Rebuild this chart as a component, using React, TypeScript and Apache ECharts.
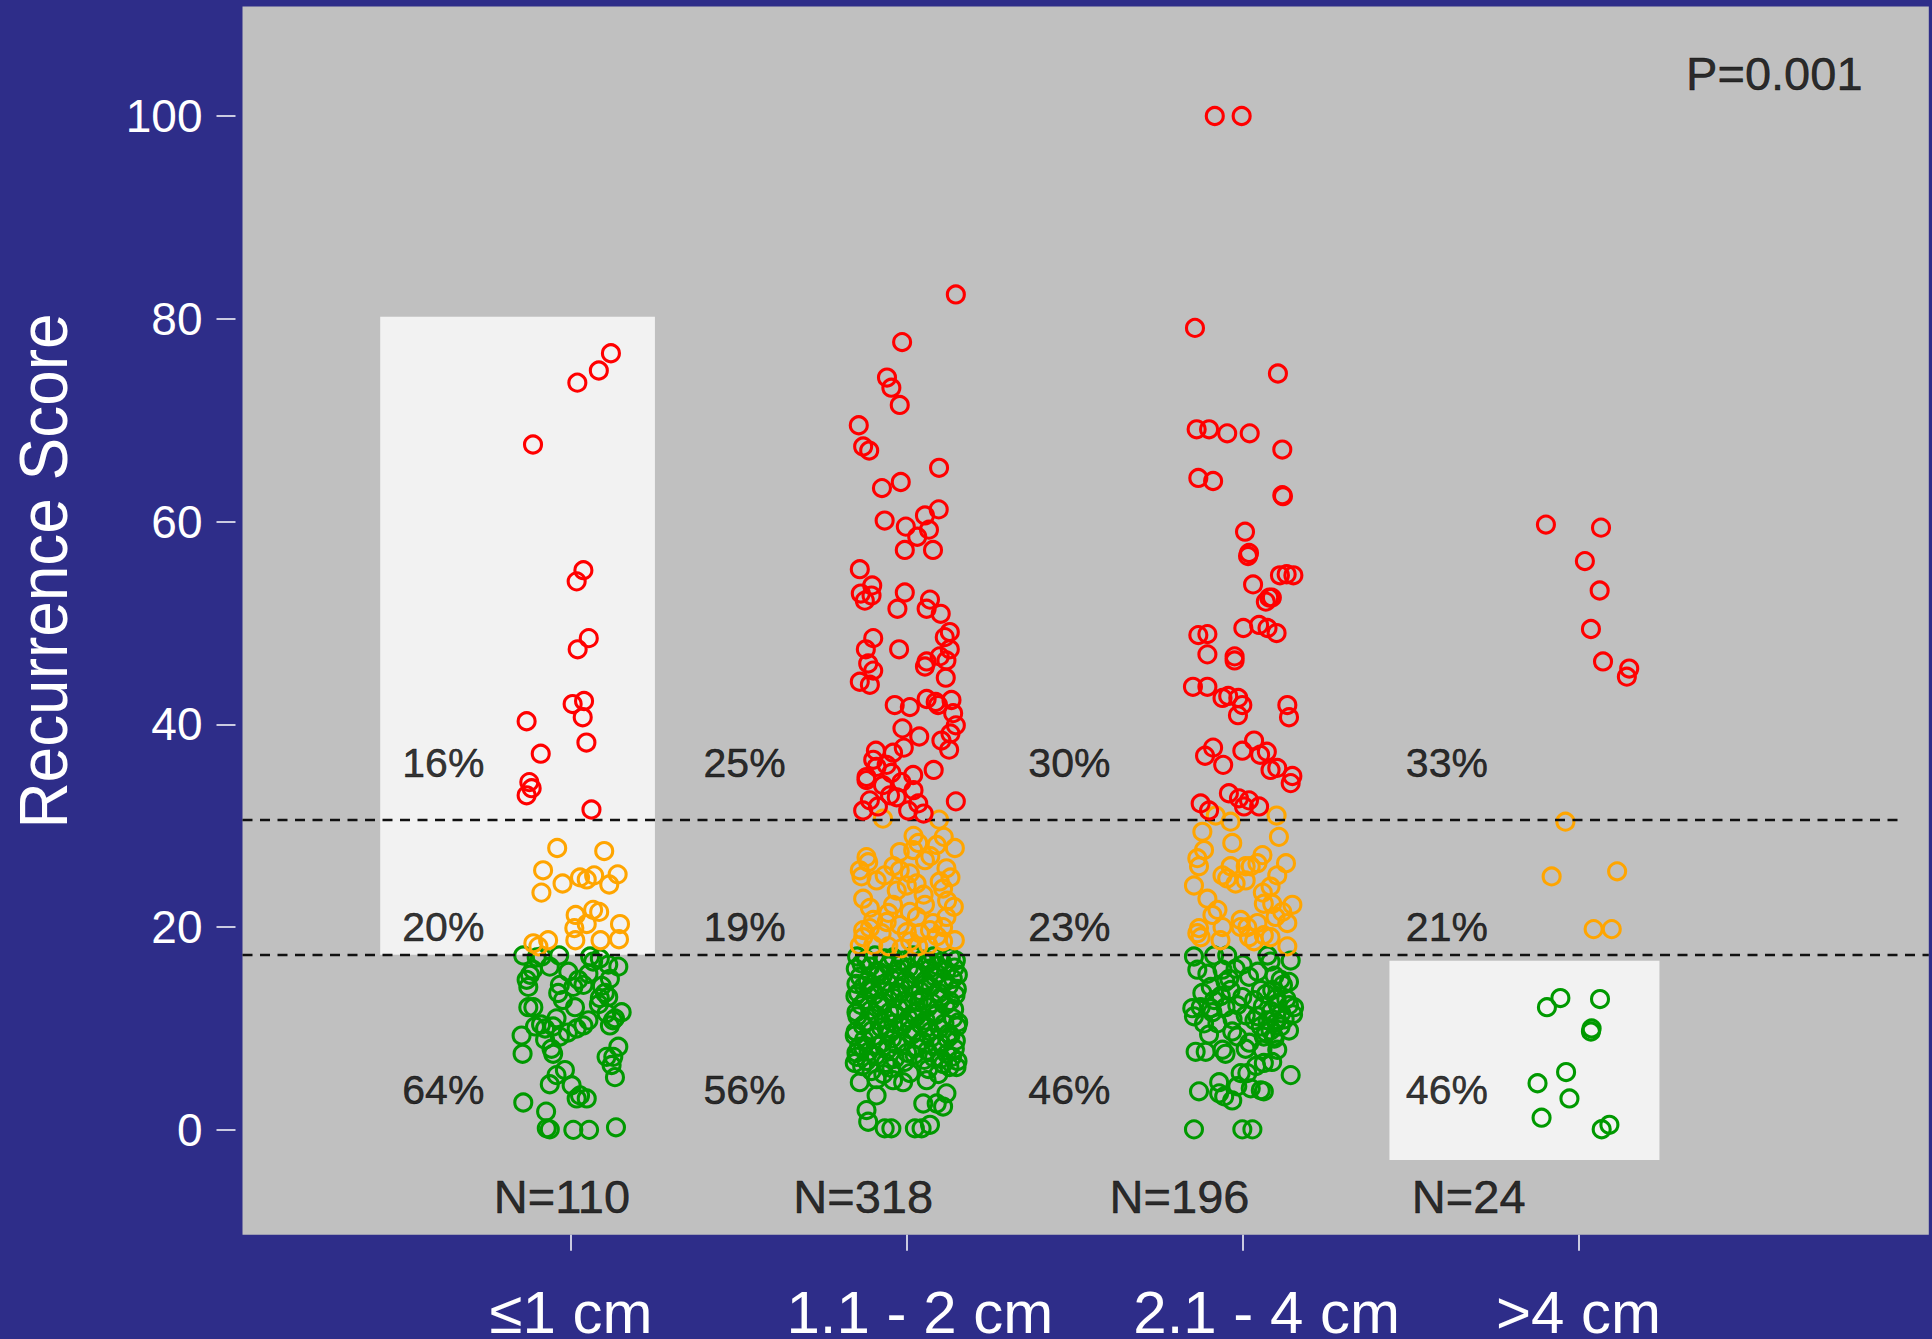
import React, { useEffect, useRef } from "react";
import * as echarts from "echarts";

// Tumour-size groups along the x axis
const sizeGroups = ["≤1 cm", "1.1 - 2 cm", "2.1 - 4 cm", ">4 cm"];
const scoreTicks = [0, 20, 40, 60, 80, 100];
const pValueText = "P=0.001";

// Risk cut-offs drawn as dashed reference lines
const cutLow = 17.25;
const cutHigh = 30.6;

// Each point: [horizontal jitter from the group centre, recurrence score]
const g1High = [
  [0.119, 76.6], [0.083, 74.9], [0.019, 73.7], [-0.113, 67.6], [0.037, 55.2], [0.017, 54.1],
  [0.053, 48.5], [0.02, 47.4], [0.039, 42.3], [0.005, 42.0], [0.035, 40.7], [-0.132, 40.3],
  [0.046, 38.2], [-0.09, 37.1], [-0.124, 34.3], [-0.117, 33.7], [-0.132, 33.0], [0.061, 31.6],
];
const g1Mid = [
  [-0.041, 27.8], [0.099, 27.5], [-0.083, 25.6], [-0.025, 24.3], [0.027, 24.9], [0.047, 24.7],
  [0.069, 25.1], [0.139, 25.2], [0.114, 24.2], [-0.088, 23.4], [0.066, 21.7], [0.084, 21.5],
  [0.014, 21.2], [0.146, 20.3], [0.047, 20.3], [0.01, 19.9], [0.013, 18.7], [0.088, 18.7],
  [0.143, 18.8], [-0.068, 18.7], [-0.112, 18.4], [-0.097, 18.1],
];
const g1Low = [
  [-0.142, 17.2], [-0.087, 17.1], [-0.102, 17.0], [-0.035, 17.2], [0.057, 17.1], [0.086, 16.9],
  [0.111, 16.3], [0.141, 16.1], [-0.063, 16.1], [-0.008, 15.6], [0.052, 15.4], [-0.122, 15.3],
  [-0.132, 14.8], [0.116, 14.9], [0.022, 14.8], [-0.127, 14.1], [-0.033, 14.3], [0.007, 14.1],
  [0.037, 14.3], [-0.038, 13.5], [0.101, 13.5], [0.111, 13.1], [0.086, 13.0], [-0.127, 12.1],
  [-0.112, 12.1], [0.012, 12.1], [0.151, 11.6], [0.106, 11.5], [0.131, 11.0], [-0.043, 11.0],
  [0.052, 10.8], [-0.107, 10.2], [-0.077, 10.0], [-0.053, 10.2], [0.017, 10.0], [0.037, 10.3],
  [0.116, 10.3], [-0.147, 9.3], [-0.033, 9.2], [-0.077, 8.9], [-0.058, 8.0], [-0.053, 7.5],
  [-0.144, 7.5], [0.141, 8.2], [0.106, 7.2], [0.126, 7.2], [0.121, 6.4], [0.131, 5.2],
  [-0.018, 5.9], [-0.043, 5.4], [-0.063, 4.5], [0.002, 4.4], [0.017, 3.1], [0.047, 3.1],
  [0.027, 3.4], [-0.142, 2.7], [-0.074, 1.8], [-0.072, 0.15], [-0.063, 0.05], [0.007, 0],
  [0.054, 0], [0.134, 0.25], [0.092, 14.2], [0.083, 12.4], [0.125, 10.8], [-0.089, 10.4],
  [-0.009, 9.6], [-0.113, 15.8], [0.066, 16.6], [-0.024, 12.8],
];

const g2High = [
  [0.146, 82.4], [-0.014, 77.7], [-0.059, 74.2], [-0.046, 73.2], [-0.021, 71.5], [-0.143, 69.5],
  [-0.13, 67.4], [-0.112, 67.0], [0.096, 65.3], [-0.018, 63.9], [-0.074, 63.3], [-0.066, 60.1],
  [0.095, 61.2], [0.054, 60.6], [-0.003, 59.5], [0.066, 59.2], [0.031, 58.5], [-0.006, 57.2],
  [0.078, 57.2], [-0.14, 55.3], [-0.103, 53.7], [-0.137, 52.9], [-0.125, 52.2], [-0.105, 52.7],
  [-0.006, 53.0], [-0.028, 51.4], [0.069, 52.3], [0.059, 51.4], [0.101, 50.9], [0.128, 49.1],
  [0.113, 48.6], [-0.1, 48.5], [-0.122, 47.4], [-0.023, 47.4], [0.128, 47.4], [-0.115, 46.0],
  [-0.1, 45.3], [0.059, 46.2], [0.054, 45.7], [0.098, 46.7], [0.118, 46.3], [0.116, 44.6],
  [-0.14, 44.2], [-0.11, 43.9], [-0.036, 41.9], [0.009, 41.7], [0.059, 42.5], [0.086, 42.2],
  [0.093, 41.9], [0.133, 42.4], [0.138, 41.1], [0.146, 39.9], [-0.013, 39.6], [0.037, 38.8],
  [0.103, 38.4], [0.13, 39.1], [-0.092, 37.4], [-0.041, 37.2], [-0.009, 37.7], [0.126, 37.5],
  [-0.12, 34.8], [-0.046, 35.2], [0.019, 35.0], [-0.12, 34.5], [-0.071, 34.0], [-0.016, 34.3],
  [-0.11, 32.5], [-0.13, 31.5], [-0.086, 31.9], [0.004, 31.5], [0.034, 32.2], [0.146, 32.4],
  [-0.09, 35.8], [0.02, 33.5], [-0.06, 36.0], [0.08, 35.5], [-0.1, 36.5], [0.05, 31.2],
  [-0.03, 32.8], [-0.05, 33.0],
];
const g2Mid = [
  [-0.021, 27.4], [0.034, 28.3], [0.089, 28.1], [0.143, 27.8], [0.019, 27.6], [0.054, 26.6],
  [-0.115, 26.4], [-0.14, 25.6], [-0.135, 25.0], [-0.066, 25.1], [-0.021, 25.6], [0.009, 25.3],
  [0.118, 25.8], [0.029, 24.3], [0.0, 24.1], [0.098, 24.5], [0.108, 23.8], [-0.13, 22.8],
  [-0.041, 22.2], [0.054, 22.2], [0.009, 21.5], [-0.1, 20.7], [-0.055, 21.4], [-0.021, 20.2],
  [0.118, 21.0], [0.078, 20.4], [-0.13, 19.7], [-0.11, 19.9], [-0.075, 19.4], [0.0, 19.5],
  [0.039, 19.4], [0.069, 19.7], [0.108, 20.0], [0.143, 18.7], [-0.14, 18.2], [-0.1, 18.2],
  [-0.055, 18.1], [-0.016, 17.9], [0.034, 18.1], [0.064, 18.2], [0.108, 18.6], [-0.071, 30.7],
  [0.096, 30.6], [-0.12, 26.9], [0.07, 27.0], [-0.09, 24.6], [0.13, 24.9], [-0.03, 23.6],
  [0.05, 23.2], [0.12, 22.6], [-0.11, 21.9], [0.03, 21.0], [-0.06, 20.5], [0.09, 19.1],
  [-0.13, 19.0], [0.01, 18.6], [0.14, 22.0], [-0.04, 26.0], [0.02, 29.0], [0.11, 28.9],
];
const g2Low = [
  [-0.14, 4.7], [-0.09, 3.4], [-0.12, 1.95], [-0.115, 0.8], [-0.066, 0.15], [-0.046, 0.15],
  [0.024, 0.15], [0.044, 0.15], [0.069, 0.5], [0.049, 2.6], [0.089, 2.6], [0.118, 3.6],
  [0.108, 2.3], [-0.041, 4.9], [-0.011, 4.7], [0.059, 4.9], [0.148, 6.2], [-0.155, 6.6],
  [-0.148, 17.1], [-0.121, 16.8], [-0.095, 17.2], [-0.066, 16.9], [-0.041, 17.0], [-0.012, 16.7],
  [0.018, 17.2], [0.047, 16.8], [0.079, 17.1], [0.104, 16.6], [0.131, 17.0], [0.146, 16.7],
  [-0.135, 16.4], [-0.02, 16.3], [0.06, 16.4],
  [-0.152, 15.9], [-0.109, 16.1], [-0.083, 15.6], [-0.054, 16.2], [-0.027, 15.8], [0.006, 16.0],
  [0.033, 15.5], [0.068, 15.9], [0.092, 16.2], [0.118, 15.7], [0.142, 16.0], [-0.07, 15.3],
  [-0.14, 15.1], [-0.116, 14.7], [-0.088, 15.2], [-0.058, 14.6], [-0.03, 15.0], [-0.003, 14.8],
  [0.025, 15.3], [0.054, 14.7], [0.083, 15.1], [0.11, 14.5], [0.137, 14.9], [0.152, 15.3],
  [-0.15, 14.4],
  [-0.128, 14.2], [-0.102, 13.8], [-0.075, 14.3], [-0.047, 13.6], [-0.018, 14.0], [0.011, 14.3],
  [0.04, 13.7], [0.071, 14.1], [0.097, 13.5], [0.125, 14.2], [0.149, 13.9], [-0.145, 13.5],
  [0.055, 14.4],
  [-0.153, 13.2], [-0.124, 12.8], [-0.097, 13.3], [-0.069, 12.6], [-0.038, 13.0], [-0.009, 12.7],
  [0.021, 13.3], [0.049, 12.9], [0.076, 12.5], [0.101, 13.1], [0.129, 12.7], [0.145, 13.3],
  [-0.08, 12.5],
  [-0.136, 12.3], [-0.109, 11.8], [-0.081, 12.2], [-0.052, 11.6], [-0.024, 12.0], [0.004, 12.4],
  [0.032, 11.7], [0.063, 12.1], [0.088, 11.5], [0.115, 12.3], [0.141, 11.9], [-0.15, 11.6],
  [0.02, 11.5],
  [-0.147, 11.2], [-0.118, 10.7], [-0.09, 11.3], [-0.061, 10.9], [-0.033, 11.4], [-0.006, 10.6],
  [0.027, 11.1], [0.056, 10.8], [0.084, 11.3], [0.112, 10.5], [0.138, 11.0], [0.153, 10.6],
  [-0.04, 10.5],
  [-0.131, 10.3], [-0.104, 9.8], [-0.077, 10.1], [-0.049, 9.6], [-0.015, 10.2], [0.013, 9.9],
  [0.042, 10.4], [0.07, 9.7], [0.098, 10.0], [0.124, 9.5], [0.15, 10.2], [-0.152, 9.7],
  [0.06, 10.1],
  [-0.155, 9.3], [-0.127, 8.9], [-0.099, 9.2], [-0.072, 8.6], [-0.044, 9.0], [-0.013, 8.7],
  [0.016, 9.4], [0.045, 8.8], [0.074, 9.1], [0.102, 8.5], [0.13, 9.3], [0.146, 8.8],
  [-0.142, 8.2], [-0.114, 7.7], [-0.086, 8.3], [-0.058, 7.9], [-0.029, 8.4], [0.001, 7.6],
  [0.03, 8.1], [0.061, 7.8], [0.089, 8.3], [0.119, 7.5], [0.143, 8.0], [-0.15, 7.6],
  [-0.149, 7.2], [-0.12, 6.8], [-0.092, 7.3], [-0.063, 6.6], [-0.036, 7.0], [-0.007, 6.7],
  [0.023, 7.4], [0.052, 6.9], [0.081, 7.1], [0.108, 6.5], [0.135, 7.2], [0.151, 6.8],
  [-0.133, 6.3], [-0.105, 5.8], [-0.046, 6.1], [0.009, 5.6], [0.064, 6.0], [0.094, 5.5],
  [0.127, 6.2], [-0.07, 5.5],
  [-0.11, 14.0], [0.035, 12.6], [0.09, 15.4], [-0.06, 10.0], [0.12, 9.0], [-0.02, 13.5],
  [0.07, 16.6], [-0.13, 8.1], [0.005, 11.0], [0.1, 7.0], [-0.09, 5.0],
];

const g3High = [
  [-0.083, 100], [-0.003, 100], [-0.142, 79.1], [0.105, 74.6], [-0.137, 69.1], [-0.1, 69.1],
  [-0.046, 68.7], [0.021, 68.7], [0.118, 67.1], [-0.132, 64.3], [-0.088, 64.0], [0.118, 62.6],
  [0.12, 62.5], [0.007, 59.0], [0.019, 56.9], [0.016, 56.6], [0.131, 54.8], [0.111, 54.7],
  [0.151, 54.7], [0.031, 53.8], [0.079, 52.5], [0.069, 52.1], [0.087, 52.5], [-0.132, 48.8],
  [-0.105, 48.9], [0.002, 49.5], [0.049, 49.8], [0.074, 49.5], [0.101, 49.0], [-0.105, 46.9],
  [-0.024, 46.7], [-0.024, 46.3], [-0.148, 43.7], [-0.105, 43.7], [-0.06, 42.6], [-0.043, 42.8],
  [-0.013, 42.6], [-0.001, 41.9], [-0.014, 40.9], [0.133, 41.9], [0.138, 40.7], [-0.112, 36.9],
  [-0.088, 37.7], [-0.058, 36.0], [-0.001, 37.4], [0.034, 38.4], [0.052, 37.0], [0.072, 37.3],
  [0.083, 35.5], [0.103, 35.7], [0.148, 34.9], [0.143, 34.2], [-0.041, 33.2], [-0.011, 32.7],
  [0.019, 32.5], [0.049, 31.9], [0.004, 31.9], [-0.125, 32.2], [-0.1, 31.5],
];
const g3Mid = [
  [-0.08, 31.0], [-0.036, 30.4], [0.101, 31.0], [-0.12, 29.4], [0.108, 28.9], [-0.031, 28.3],
  [-0.115, 27.6], [-0.135, 26.8], [-0.13, 26.0], [0.059, 27.1], [0.129, 26.3], [-0.036, 26.0],
  [0.009, 26.0], [0.024, 26.0], [0.044, 26.3], [-0.06, 25.1], [-0.046, 24.8], [-0.021, 24.3],
  [0.009, 24.6], [0.103, 25.1], [-0.145, 24.1], [0.083, 24.0], [-0.105, 22.8], [0.063, 22.3],
  [0.088, 22.3], [0.148, 22.2], [-0.075, 21.7], [0.118, 21.5], [0.098, 21.0], [0.133, 20.4],
  [-0.13, 19.9], [-0.135, 19.4], [-0.06, 20.0], [-0.006, 20.0], [0.014, 20.0], [0.044, 20.4],
  [0.019, 19.0], [0.034, 18.6], [0.063, 19.2], [0.083, 19.0], [-0.066, 18.7], [-0.125, 19.0],
  [0.133, 18.1], [-0.006, 20.7], [0.06, 23.4], [-0.09, 21.2],
];
const g3Low = [
  [-0.145, 17.1], [-0.085, 17.2], [-0.046, 17.2], [0.074, 17.2], [0.083, 16.6], [0.143, 16.7],
  [-0.135, 15.8], [-0.105, 15.4], [-0.06, 15.8], [-0.021, 15.9], [0.019, 15.1], [0.138, 14.6],
  [0.113, 14.8], [-0.095, 14.1], [-0.036, 13.8], [-0.051, 14.6], [0.054, 13.8], [0.088, 13.8],
  [-0.085, 12.8], [-0.001, 13.1], [0.034, 12.8], [0.103, 12.5], [0.138, 12.3], [0.153, 12.1],
  [-0.15, 12.0], [-0.125, 12.1], [-0.095, 12.0], [-0.051, 12.1], [-0.016, 12.3], [-0.145, 11.2],
  [-0.115, 10.5], [-0.075, 10.5], [0.009, 11.3], [0.044, 11.2], [0.074, 10.8], [0.054, 10.2],
  [0.083, 9.8], [0.113, 10.2], [0.138, 9.8], [-0.031, 9.7], [-0.016, 9.2], [0.063, 9.2],
  [0.093, 9.2], [-0.14, 7.7], [-0.11, 7.7], [-0.06, 7.9], [-0.051, 7.5], [0.009, 8.0],
  [0.059, 7.9], [0.103, 7.9], [0.063, 6.6], [0.088, 6.7], [0.143, 5.4], [-0.006, 5.6],
  [0.014, 5.6], [-0.07, 4.7], [-0.016, 4.3], [0.024, 4.1], [0.054, 3.9], [0.063, 3.8],
  [-0.13, 3.8], [-0.07, 3.6], [-0.055, 3.3], [-0.031, 2.9], [-0.145, 0.05], [-0.001, 0.05],
  [0.029, 0.05], [0.045, 15.6], [0.095, 15.2], [0.12, 14.3], [0.07, 13.4], [0.1, 13.0],
  [0.13, 12.9], [0.06, 12.2], [0.085, 11.7], [0.115, 11.5], [0.035, 10.8], [0.1, 10.6],
  [0.125, 10.9], [0.07, 9.6], [0.095, 9.0], [0.02, 8.6], [-0.09, 11.6], [-0.12, 13.5],
  [-0.065, 13.2], [-0.1, 9.4], [-0.04, 14.9], [0.0, 16.3], [-0.03, 10.9], [0.15, 11.4],
  [0.04, 6.3],
];

const g4High = [
  [-0.097, 59.7], [0.067, 59.4], [0.019, 56.1], [0.063, 53.2], [0.037, 49.4], [0.073, 46.2],
  [0.151, 45.5], [0.144, 44.7],
];
const g4Mid = [[-0.039, 30.4], [-0.08, 25.0], [0.115, 25.5], [0.045, 19.8], [0.099, 19.8]];
const g4Low = [
  [-0.094, 12.1], [-0.054, 13.0], [0.064, 12.9], [0.037, 9.7], [0.039, 10.0], [-0.037, 5.7],
  [-0.122, 4.6], [-0.027, 3.1], [-0.11, 1.2], [0.069, 0.06], [0.092, 0.5],
];

const groups = [
  { low: g1Low, mid: g1Mid, high: g1High },
  { low: g2Low, mid: g2Mid, high: g2High },
  { low: g3Low, mid: g3Mid, high: g3High },
  { low: g4Low, mid: g4Mid, high: g4High },
];

// Layout of the annotations, in axis units
const axisRangeX = [0.022, 5.043];
const axisRangeY = [-10.34, 110.8];
const pctAnchorX = [0.62, 1.517, 2.484, 3.608];
const pctRowY = { high: 36.2, mid: 20.0, low: 3.9 };
const countAnchorX = [0.973, 1.87, 2.812, 3.673];
const countRowY = -6.6;
const pValueAnchor = [4.583, 104.2];
const highCutEndX = 4.967;
const shadedBoxes = [
  [[0.432, 17.27], [1.25, 80.2]],
  [[3.437, -2.96], [4.241, 16.67]],
];
// Small shifts of individual size labels, in pixels
const sizeLabelShift = [0, 26, 48, 0];

const FONT = "'Liberation Sans', Arial, Helvetica, sans-serif";
const COLORS = { low: "#009900", mid: "#ffa500", high: "#ff0000" };
const INK = "#000000";

function placed(points: number[][], gi: number) {
  return points.map(([j, s]) => [gi + 1 + j, s]);
}

function textLabel(text: string, fontSize: number) {
  return {
    formatter: text,
    fontSize,
    color: INK,
    fontFamily: FONT,
    textBorderColor: INK,
    textBorderWidth: 0.5,
  };
}

function buildOption() {
  const riskSeries = (["low", "mid", "high"] as const).map((risk, k) => ({
    name: risk,
    type: "scatter",
    z: 3 + k,
    silent: true,
    symbol: "circle",
    symbolSize: 17,
    itemStyle: { color: "rgba(0,0,0,0)", borderColor: COLORS[risk], borderWidth: 3.1, opacity: 1 },
    data: groups.flatMap((g, gi) => placed(g[risk], gi)),
  }));

  const annotations: any[] = [];
  groups.forEach((g, gi) => {
    const total = g.low.length + g.mid.length + g.high.length;
    (["high", "mid", "low"] as const).forEach((risk) => {
      const pct = Math.round((g[risk].length / total) * 100);
      annotations.push({
        value: [pctAnchorX[gi], pctRowY[risk]],
        label: textLabel(`${pct}%`, 41),
      });
    });
    annotations.push({
      value: [countAnchorX[gi], countRowY],
      label: textLabel(`N=${total}`, 47),
    });
  });
  annotations.push({ value: pValueAnchor, label: textLabel(pValueText, 47) });

  const rich: Record<string, any> = {};
  sizeGroups.forEach((_, i) => {
    rich["c" + i] = {
      fontSize: 60,
      color: "#ffffff",
      fontFamily: FONT,
      padding: [0, 0, 0, sizeLabelShift[i]],
    };
  });

  return {
    animation: false,
    backgroundColor: "#2e2d89",
    grid: {
      left: 242.5,
      right: 3.2,
      top: 6.5,
      bottom: 104.3,
      show: true,
      backgroundColor: "#c0c0c0",
      borderWidth: 0,
      containLabel: false,
      outerBoundsMode: "none",
    },
    xAxis: {
      type: "value",
      min: axisRangeX[0],
      max: axisRangeX[1],
      splitLine: { show: false },
      axisLine: { show: false, onZero: false },
      axisTick: {
        show: true,
        customValues: [1, 2, 3, 4],
        length: 16,
        lineStyle: { color: "#ffffff", width: 1.5 },
      },
      axisLabel: {
        show: true,
        customValues: [1, 2, 3, 4],
        margin: 48,
        formatter: (v: number) => {
          const i = Math.round(v) - 1;
          return `{c${i}|${sizeGroups[i]}}`;
        },
        rich,
        color: "#ffffff",
        fontSize: 60,
        fontFamily: FONT,
      },
    },
    yAxis: {
      type: "value",
      min: axisRangeY[0],
      max: axisRangeY[1],
      offset: 7,
      splitLine: { show: false },
      axisLine: { show: false, onZero: false },
      axisTick: {
        show: true,
        customValues: scoreTicks,
        length: 19,
        lineStyle: { color: "#ffffff", width: 1.5 },
      },
      axisLabel: {
        show: true,
        customValues: scoreTicks,
        margin: 33,
        color: "#ffffff",
        fontSize: 46,
        fontFamily: FONT,
        padding: [12, 0, 0, 0],
      },
    },
    graphic: [
      {
        type: "text",
        x: 43,
        y: 571,
        rotation: Math.PI / 2,
        scaleX: 0.94,
        style: {
          text: "Recurrence Score",
          fill: "#ffffff",
          fontSize: 68,
          fontFamily: FONT,
          align: "center",
          verticalAlign: "middle",
        },
      },
    ],
    series: [
      {
        name: "shading",
        type: "scatter",
        z: 1,
        silent: true,
        data: [],
        markArea: {
          silent: true,
          itemStyle: { color: "#f2f2f2", opacity: 1 },
          label: { show: false },
          data: shadedBoxes.map(([a, b]) => [{ coord: a }, { coord: b }]),
        },
      },
      {
        name: "cutoffs",
        type: "scatter",
        z: 2,
        silent: true,
        data: [],
        markLine: {
          silent: true,
          symbol: ["none", "none"],
          label: { show: false },
          lineStyle: { color: "#111111", width: 2.4, type: [10, 7.5] },
          data: [
            [{ coord: [axisRangeX[0], cutHigh] }, { coord: [highCutEndX, cutHigh] }],
            [{ coord: [axisRangeX[0], cutLow] }, { coord: [axisRangeX[1], cutLow] }],
          ],
        },
      },
      ...riskSeries,
      {
        name: "annotations",
        type: "scatter",
        z: 10,
        silent: true,
        symbolSize: 0,
        itemStyle: { color: "rgba(0,0,0,0)" },
        label: {
          show: true,
          position: "inside",
          color: INK,
          fontFamily: FONT,
        },
        data: annotations,
      },
    ],
  };
}

export default function App() {
  const ref = useRef<HTMLDivElement>(null);
  useEffect(() => {
    if (!ref.current) return;
    const chart = echarts.init(ref.current, undefined, { renderer: "svg" });
    chart.setOption(buildOption() as any);
    return () => chart.dispose();
  }, []);
  return (
    <div
      ref={ref}
      style={{ position: "fixed", left: 0, top: 0, width: 1932, height: 1339 }}
    />
  );
}
